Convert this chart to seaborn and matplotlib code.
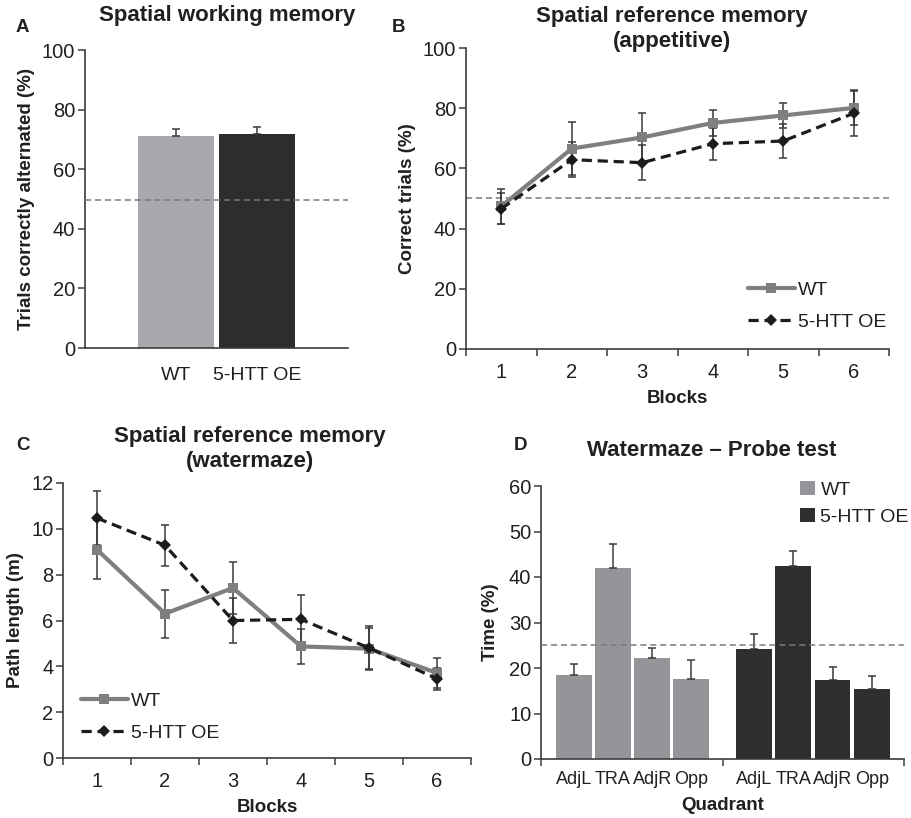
import numpy as np
import pandas as pd
import matplotlib
matplotlib.use("Agg")
import matplotlib.pyplot as plt
from matplotlib.patches import Patch
from matplotlib.lines import Line2D
import seaborn as sns

# ---------------- data ----------------
groups = ["WT", "5-HTT OE"]
A_mean = [71.1, 71.8]
A_err = [2.4, 2.3]

blocks = [1, 2, 3, 4, 5, 6]
B_wt = [47.4, 66.6, 70.3, 75.1, 77.6, 80.1]
B_wt_err = [5.8, 8.7, 8.1, 4.4, 4.1, 5.8]
B_oe = [46.6, 62.9, 61.9, 68.2, 69.1, 78.3]
B_oe_err = [5.1, 5.8, 5.8, 5.3, 5.5, 7.4]

C_wt = [9.09, 6.30, 7.42, 4.87, 4.77, 3.71]
C_wt_err = [1.30, 1.05, 1.15, 0.75, 0.90, 0.67]
C_oe = [10.47, 9.28, 6.00, 6.05, 4.80, 3.46]
C_oe_err = [1.18, 0.90, 0.97, 1.05, 0.96, 0.48]

quadrants = ["AdjL", "TRA", "AdjR", "Opp"]
D_wt = [18.4, 42.0, 22.2, 17.5]
D_wt_err = [2.4, 5.2, 2.2, 4.3]
D_oe = [24.2, 42.4, 17.3, 15.3]
D_oe_err = [3.2, 3.4, 3.0, 2.9]

# ---------------- style ----------------
sns.set_theme(style="white")
plt.rcParams["font.family"] = ["Liberation Sans", "DejaVu Sans"]
BOLD = ["Liberation Sans", "DejaVu Sans"]
TXT = "#231f20"
SPINE = "#3c3c3c"
TICK_FS = 14.5
plt.rcParams.update({
    "axes.edgecolor": SPINE, "axes.linewidth": 1.2,
    "xtick.color": SPINE, "ytick.color": SPINE,
    "xtick.labelcolor": TXT, "ytick.labelcolor": TXT,
    "xtick.labelsize": TICK_FS, "ytick.labelsize": TICK_FS,
})

W, H = 911, 818
fig = plt.figure(figsize=(W / 100, H / 100), dpi=100)
fig.patch.set_facecolor("white")


def add_ax(l, t, r, b):
    return fig.add_axes([l / W, 1 - b / H, (r - l) / W, (b - t) / H])


def style_ax(ax):
    for s in ["top", "right"]:
        ax.spines[s].set_visible(False)
    ax.tick_params(axis="y", which="both", direction="out", length=5, width=1.1, left=True, pad=2)
    ax.tick_params(axis="x", which="both", direction="out", width=1.1, bottom=True)
    ax.set_facecolor("white")


def title(x, y, s):
    fig.text(x / W, 1 - y / H, s, ha="center", va="center", fontsize=16,
             fontweight="bold", family=BOLD, color=TXT, linespacing=1.2)


def letter(x, y, s):
    fig.text(x / W, 1 - y / H, s, ha="left", va="center", fontsize=13.5,
             fontweight="bold", family=BOLD, color=TXT)


def ylab(ax, s, pad):
    ax.set_ylabel(s, fontsize=13.5, fontweight="bold", family=BOLD, color=TXT, labelpad=pad)


def xlab(ax, s, pad):
    ax.set_xlabel(s, fontsize=13.5, fontweight="bold", family=BOLD, color=TXT, labelpad=pad)


ERR = "#3a3a3a"
CAP = 3

# ---------------- Panel A ----------------
axA = add_ax(85, 50, 348, 348)
style_ax(axA)
dfA = pd.DataFrame({"group": groups, "value": A_mean})
sns.barplot(data=dfA, x="group", y="value", hue="group", order=groups,
            palette={"WT": "#a8a9ac", "5-HTT OE": "#2d2c2e"}, width=0.94,
            errorbar=None, legend=False, ax=axA, saturation=1, linewidth=0)
axA.errorbar(range(len(groups)), A_mean, yerr=[np.zeros(len(A_err)), A_err], fmt="none",
             ecolor=ERR, elinewidth=1.1, capsize=CAP, capthick=1.1, zorder=1)
axA.axhline(49.7, color="#7a7a7a", lw=1.1, ls=(0, (4, 2.5)), zorder=5)
axA.set_xlim(-1.12, 2.12)
axA.set_ylim(0, 100)
axA.set_yticks(range(0, 101, 20))
axA.tick_params(axis="x", length=0, pad=14, labelsize=14)
axA.set_xlabel("")
ylab(axA, "Trials correctly alternated (%)", 5)
title(227, 15, "Spatial working memory")
letter(16, 27, "A")


# ---------------- line panels ----------------
WT_KW = dict(color="#7f7f80", lw=3, marker="s", markersize=6.5, markeredgewidth=0)
OE_KW = dict(color="#1c1b1d", lw=2.3, marker="D", markersize=6, markeredgewidth=0,
             linestyle=(0, (3.2, 1.8)))


def line_panel(ax, wt, wt_err, oe, oe_err):
    df = pd.DataFrame({"block": blocks * 2,
                       "value": wt + oe,
                       "genotype": ["WT"] * len(blocks) + ["5-HTT OE"] * len(blocks)})
    ax.errorbar(blocks, wt, yerr=wt_err, fmt="none", ecolor=ERR, elinewidth=1.1,
                capsize=CAP, capthick=1.1, zorder=2)
    ax.errorbar(blocks, oe, yerr=oe_err, fmt="none", ecolor=ERR, elinewidth=1.1,
                capsize=CAP, capthick=1.1, zorder=2)
    sns.lineplot(data=df[df.genotype == "WT"], x="block", y="value", ax=ax, zorder=3,
                 legend=False, **WT_KW)
    sns.lineplot(data=df[df.genotype == "5-HTT OE"], x="block", y="value", ax=ax, zorder=4,
                 legend=False, **OE_KW)
    ax.set_xlim(0.5, 6.5)
    ax.set_xticks(blocks)
    ax.set_xticks(np.arange(0.5, 7.0, 1.0), minor=True)
    ax.tick_params(axis="x", which="major", length=0, pad=10)
    ax.tick_params(axis="x", which="minor", length=5)
    return [Line2D([], [], **WT_KW), Line2D([], [], **OE_KW)]


def line_legend(ax, handles, x, y):
    leg = ax.legend(handles, groups, loc="upper left", bbox_to_anchor=(x / W, 1 - y / H),
                    bbox_transform=fig.transFigure, frameon=False, fontsize=14,
                    handlelength=2.4, handletextpad=0.15, labelspacing=0.75, borderpad=0,
                    borderaxespad=0)
    for t in leg.get_texts():
        t.set_color(TXT)


axB = add_ax(466, 48, 889, 349)
style_ax(axB)
hB = line_panel(axB, B_wt, B_wt_err, B_oe, B_oe_err)
axB.axhline(50.2, color="#7a7a7a", lw=1.1, ls=(0, (4, 2.5)), zorder=1)
axB.set_ylim(0, 100)
axB.set_yticks(range(0, 101, 20))
ylab(axB, "Correct trials (%)", 5)
xlab(axB, "Blocks", 6)
line_legend(axB, hB, 748, 281)
title(672, 29, "Spatial reference memory\n(appetitive)")
letter(392, 27, "B")

axC = add_ax(63, 483, 471, 758)
style_ax(axC)
hC = line_panel(axC, C_wt, C_wt_err, C_oe, C_oe_err)
axC.set_ylim(0, 12)
axC.set_yticks(range(0, 13, 2))
ylab(axC, "Path length (m)", 5)
xlab(axC, "Blocks", 6)
line_legend(axC, hC, 81, 692)
title(250, 449, "Spatial reference memory\n(watermaze)")
letter(16, 446, "C")

# ---------------- Panel D ----------------
axD = add_ax(541, 486, 904, 759)
style_ax(axD)
offset2 = 4.59
pos_wt = list(np.arange(len(quadrants), dtype=float))
pos_oe = [p + offset2 for p in pos_wt]
dfD = pd.DataFrame({"pos": pos_wt + pos_oe, "value": D_wt + D_oe,
                    "genotype": ["WT"] * 4 + ["5-HTT OE"] * 4})
sns.barplot(data=dfD, x="pos", y="value", hue="genotype", native_scale=True, dodge=False,
            palette={"WT": "#939598", "5-HTT OE": "#2e2d2f"}, width=0.915, errorbar=None,
            legend=False, ax=axD, saturation=1, linewidth=0)
axD.errorbar(pos_wt, D_wt, yerr=[np.zeros(4), D_wt_err], fmt="none", ecolor=ERR,
             elinewidth=1.1, capsize=CAP, capthick=1.1, zorder=1)
axD.errorbar(pos_oe, D_oe, yerr=[np.zeros(4), D_oe_err], fmt="none", ecolor=ERR,
             elinewidth=1.1, capsize=CAP, capthick=1.1, zorder=1)
axD.axhline(25.1, color="#7a7a7a", lw=1.1, ls=(0, (4, 2.5)), zorder=5)
axD.set_xlim(-0.83, 8.41)
axD.set_ylim(0, 60)
axD.set_yticks(range(0, 61, 10))
axD.set_xticks(pos_wt + pos_oe)
axD.set_xticklabels(quadrants * 2)
axD.set_xticks([-0.83, (pos_wt[-1] + pos_oe[0]) / 2, 8.41], minor=True)
axD.tick_params(axis="x", which="major", length=0, pad=9, labelsize=13)
axD.tick_params(axis="x", which="minor", length=5)
ylab(axD, "Time (%)", 7)
xlab(axD, "Quadrant", 6)
hD = [Patch(facecolor="#939598", edgecolor="none"), Patch(facecolor="#2e2d2f", edgecolor="none")]
legD = axD.legend(hD, groups, loc="upper left", bbox_to_anchor=(800 / W, 1 - 481 / H),
                  bbox_transform=fig.transFigure, frameon=False, fontsize=14,
                  handlelength=0.75, handleheight=0.75, handletextpad=0.3, labelspacing=0.45,
                  borderpad=0, borderaxespad=0)
for t in legD.get_texts():
    t.set_color(TXT)
title(712, 450, "Watermaze \u2013 Probe test")
letter(514, 446, "D")

fig.savefig("out.png", dpi=100, facecolor="white")
